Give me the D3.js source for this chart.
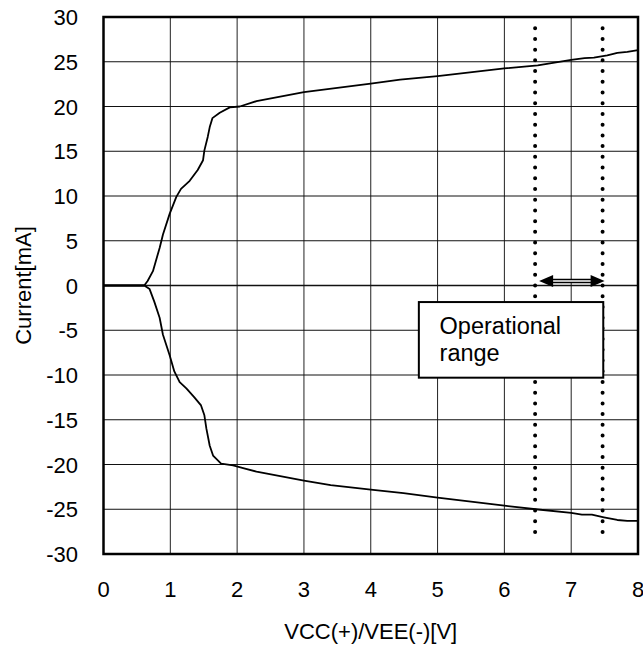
<!DOCTYPE html>
<html>
<head>
<meta charset="utf-8">
<script src="https://cdn.jsdelivr.net/npm/d3@7"></script>
<style>
  body { margin: 0; background: #fff; }
  text { font-family: "Liberation Sans", Arial, sans-serif; fill: #000; }
</style>
</head>
<body>
<div id="vis"></div>
<script>
// upper branch (VCC, positive current)
var upperX = [0, 0.61, 0.66, 0.74, 0.84, 0.89, 0.99, 1.09, 1.16, 1.29, 1.41, 1.49, 1.51, 1.56, 1.59, 1.63, 1.74, 1.89, 2.04, 2.29, 3.0, 4.0, 4.44, 5.0, 6.0, 6.5, 7.0, 7.2, 7.34, 7.54, 7.69, 7.84, 8.0];
var upperY = [0, 0, 0.5, 1.6, 4.2, 5.7, 8.0, 9.9, 10.8, 11.7, 12.9, 14.0, 15.1, 16.6, 17.7, 18.7, 19.3, 19.9, 20.0, 20.6, 21.6, 22.55, 23.0, 23.4, 24.25, 24.6, 25.2, 25.4, 25.45, 25.7, 26.0, 26.1, 26.3];
// lower branch (VEE, negative current)
var lowerX = [0, 0.61, 0.69, 0.76, 0.84, 0.89, 0.99, 1.06, 1.14, 1.24, 1.36, 1.46, 1.51, 1.54, 1.59, 1.64, 1.76, 1.94, 2.09, 2.29, 3.0, 3.4, 4.0, 4.49, 5.0, 6.0, 6.47, 7.0, 7.16, 7.31, 7.49, 7.69, 7.84, 8.0];
var lowerY = [0, 0, -0.4, -1.8, -3.6, -5.5, -7.8, -9.6, -10.8, -11.5, -12.5, -13.4, -14.5, -16.0, -17.9, -19.0, -19.9, -20.1, -20.4, -20.8, -21.8, -22.3, -22.8, -23.2, -23.7, -24.6, -25.0, -25.4, -25.6, -25.6, -25.9, -26.2, -26.3, -26.3];

var xTicks = [0, 1, 2, 3, 4, 5, 6, 7, 8];
var yTicks = [30, 25, 20, 15, 10, 5, 0, -5, -10, -15, -20, -25, -30];

// operational range markers
var rangeLines = [6.46, 7.47];
var rangeLabel = ["Operational", "range"];

var width = 643, height = 649;
var margin = { top: 17, right: 5, bottom: 95, left: 103.5 };

var svg = d3.select("#vis")
  .append("svg")
  .attr("width", width)
  .attr("height", height);

var x = d3.scaleLinear().domain([0, 8]).range([margin.left, width - margin.right]);
var y = d3.scaleLinear().domain([-30, 30]).range([height - margin.bottom, margin.top]);

// grid
svg.append("g")
  .selectAll("line")
  .data(xTicks.slice(1, -1))
  .enter()
  .append("line")
  .attr("x1", d => x(d)).attr("x2", d => x(d))
  .attr("y1", y(30)).attr("y2", y(-30))
  .attr("stroke", "#222")
  .attr("stroke-width", 1);

svg.append("g")
  .selectAll("line")
  .data(yTicks.slice(1, -1))
  .enter()
  .append("line")
  .attr("x1", x(0)).attr("x2", x(8))
  .attr("y1", d => y(d)).attr("y2", d => y(d))
  .attr("stroke", "#111")
  .attr("stroke-width", d => d === 0 ? 1.5 : 1);

// dotted range lines
svg.append("g")
  .selectAll("line")
  .data(rangeLines)
  .enter()
  .append("line")
  .attr("x1", d => x(d)).attr("x2", d => x(d))
  .attr("y1", y(28.75)).attr("y2", y(-28.6))
  .attr("stroke", "#000")
  .attr("stroke-width", 4)
  .attr("stroke-linecap", "round")
  .attr("stroke-dasharray", "0,10.72");

// curves
var line = d3.line().x(d => x(d[0])).y(d => y(d[1]));
var upper = upperX.map((v, i) => [v, upperY[i]]);
var lower = lowerX.map((v, i) => [v, lowerY[i]]);

svg.selectAll(".curve")
  .data([upper, lower])
  .enter()
  .append("path")
  .attr("class", "curve")
  .attr("d", line)
  .attr("fill", "none")
  .attr("stroke", "#000")
  .attr("stroke-width", 1.8)
  .attr("stroke-linejoin", "round");

// double headed arrow between the range lines
var ay = y(0.5);
var ax1 = x(6.52), ax2 = x(7.5);
svg.append("line")
  .attr("x1", ax1 + 12).attr("x2", ax2 - 12)
  .attr("y1", ay).attr("y2", ay)
  .attr("stroke", "#000").attr("stroke-width", 4.5);
svg.append("line")
  .attr("x1", ax1 + 12).attr("x2", ax2 - 12)
  .attr("y1", ay).attr("y2", ay)
  .attr("stroke", "#fff").attr("stroke-width", 1.5);
svg.append("path")
  .attr("d", "M" + ax1 + "," + ay + "L" + (ax1 + 14) + "," + (ay - 6) + "L" + (ax1 + 14) + "," + (ay + 6) + "Z")
  .attr("fill", "#000");
svg.append("path")
  .attr("d", "M" + ax2 + "," + ay + "L" + (ax2 - 14) + "," + (ay - 6) + "L" + (ax2 - 14) + "," + (ay + 6) + "Z")
  .attr("fill", "#000");

// label box
svg.append("rect")
  .attr("x", x(4.72))
  .attr("y", y(-1.85))
  .attr("width", x(7.48) - x(4.72))
  .attr("height", y(-10.3) - y(-1.85))
  .attr("fill", "#fff")
  .attr("stroke", "#000")
  .attr("stroke-width", 2);

svg.append("g")
  .selectAll("text")
  .data(rangeLabel)
  .enter()
  .append("text")
  .attr("x", x(5.03))
  .attr("y", (d, i) => 334 + i * 27)
  .attr("font-size", "23.5px")
  .text(d => d);

// frame
svg.append("rect")
  .attr("x", x(0)).attr("y", y(30))
  .attr("width", x(8) - x(0))
  .attr("height", y(-30) - y(30))
  .attr("fill", "none")
  .attr("stroke", "#000")
  .attr("stroke-width", 2.5);

// tick labels
svg.append("g")
  .selectAll("text")
  .data(xTicks)
  .enter()
  .append("text")
  .attr("x", d => x(d))
  .attr("y", 597)
  .attr("text-anchor", "middle")
  .attr("font-size", "22px")
  .text(d => d);

svg.append("g")
  .selectAll("text")
  .data(yTicks)
  .enter()
  .append("text")
  .attr("x", 78)
  .attr("y", d => y(d) + 8)
  .attr("text-anchor", "end")
  .attr("font-size", "22px")
  .text(d => d);

// axis titles
svg.append("text")
  .attr("x", (x(0) + x(8)) / 2)
  .attr("y", 639)
  .attr("text-anchor", "middle")
  .attr("font-size", "22px")
  .text("VCC(+)/VEE(-)[V]");

svg.append("text")
  .attr("transform", "translate(31," + y(0) + ") rotate(-90)")
  .attr("text-anchor", "middle")
  .attr("font-size", "22px")
  .text("Current[mA]");
</script>
</body>
</html>
